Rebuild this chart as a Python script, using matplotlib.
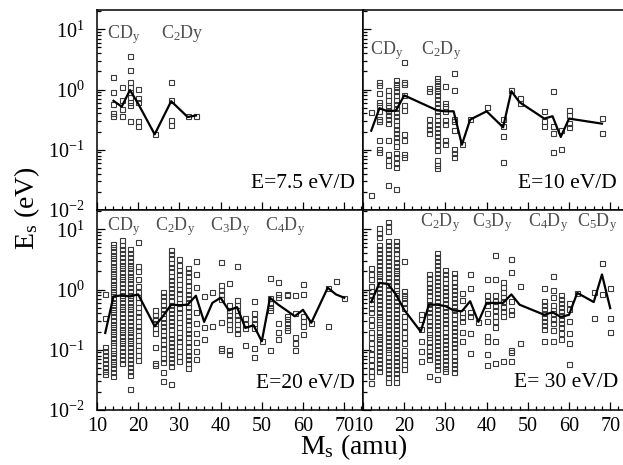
import math
import matplotlib
matplotlib.use("Agg")
import matplotlib.pyplot as plt
from matplotlib.ticker import FixedLocator, MultipleLocator, NullFormatter, FuncFormatter

plt.rcParams['font.family'] = 'serif'
plt.rcParams['font.serif'] = ['Liberation Serif', 'DejaVu Serif']
plt.rcParams['mathtext.fontset'] = 'custom'
plt.rcParams['mathtext.rm'] = 'Liberation Serif'
plt.rcParams['mathtext.it'] = 'Liberation Serif:italic'
plt.rcParams['mathtext.bf'] = 'Liberation Serif:bold'
plt.rcParams['axes.unicode_minus'] = False

# ---------------- E = 7.5 eV/D ----------------
mass_7p5 = [14, 16, 18, 20, 24, 28, 32, 34]
es_7p5 = [
    [1.6, 0.91, 0.58, 0.40, 0.37],
    [1.09, 0.68, 0.48, 0.36],
    [3.6, 2.1, 1.34, 1.11, 0.91, 0.75, 0.62, 0.55, 0.30],
    [1.04, 0.73, 0.62, 0.30, 0.25],
    [0.18],
    [1.32, 0.66, 0.31, 0.26],
    [0.36],
    [0.37],
]
mean_m_7p5 = [14, 16, 18, 20, 24, 28, 32, 34]
mean_e_7p5 = [0.65, 0.52, 0.98, 0.58, 0.18, 0.64, 0.35, 0.37]

# ---------------- E = 10 eV/D ----------------
mass_10 = [12, 14, 16, 18, 20, 26, 28, 30, 32, 34, 36, 40, 44, 46, 48, 54, 56, 58, 60, 68]
es_10 = [
    [0.43, 0.018],
    [1.34, 1.21, 0.88, 0.62, 0.56, 0.44, 0.33, 0.30, 0.143, 0.104, 0.09],
    [0.97, 0.8, 0.68, 0.56, 0.51, 0.44, 0.38, 0.32, 0.28, 0.147, 0.086, 0.068, 0.056, 0.026],
    [1.46, 1.26, 1.11, 0.94, 0.8, 0.68, 0.58, 0.49, 0.42, 0.36, 0.31, 0.26, 0.22, 0.19,
     0.16, 0.138, 0.114, 0.088, 0.077, 0.06, 0.051, 0.022],
    [2.86, 1.32, 1.25, 0.8, 0.56, 0.45, 0.185, 0.143, 0.085, 0.075],
    [1.07, 0.94, 0.32, 0.26, 0.22, 0.19],
    [1.57, 1.38, 1.21, 1.07, 0.94, 0.8, 0.7, 0.6, 0.51, 0.435, 0.373, 0.316, 0.271, 0.23,
     0.197, 0.171, 0.147, 0.124, 0.1, 0.068, 0.056, 0.049],
    [1.15, 0.6, 0.53, 0.435, 0.31, 0.27, 0.147, 0.124],
    [1.85, 1.0, 0.33, 0.3, 0.21, 0.104, 0.088, 0.077],
    [0.124],
    [0.32],
    [0.51],
    [0.33, 0.245, 0.171, 0.062],
    [0.98],
    [0.72, 0.6],
    [0.435, 0.3, 0.25],
    [0.94, 0.245, 0.19, 0.09],
    [0.21, 0.104],
    [0.46, 0.38, 0.28, 0.24],
    [0.34, 0.19],
]
mean_m_10 = [12, 14, 16, 18, 20, 28, 30, 32, 34, 36, 40, 44, 46, 48, 54, 56, 58, 60, 68]
mean_e_10 = [0.207, 0.49, 0.435, 0.447, 0.80, 0.45, 0.435, 0.435, 0.121, 0.316, 0.435,
             0.236, 0.94, 0.615, 0.329, 0.36, 0.163, 0.329, 0.271]

# ---------------- E = 20 eV/D ----------------
mass_20 = [12, 14, 16, 18, 20, 24, 26, 28, 30, 32, 34, 36, 38, 40, 42, 44, 46, 48,
           50, 52, 54, 56, 58, 60, 62, 66, 68, 70]
es_20 = [
    [0.85, 0.34, 0.11, 0.095, 0.082, 0.07, 0.06, 0.052, 0.045, 0.04],
    [5.8, 5.0, 4.4, 3.8, 3.3, 2.9, 2.5, 2.2, 1.9, 1.65, 1.45, 1.25, 1.1, 0.95, 0.83, 0.72,
     0.63, 0.55, 0.48, 0.42, 0.36, 0.31, 0.27, 0.235, 0.205, 0.18, 0.155, 0.135, 0.118,
     0.1, 0.088, 0.076, 0.066, 0.057, 0.05, 0.043, 0.037],
    [6.6, 5.6, 4.8, 4.1, 3.5, 3.0, 2.6, 2.25, 1.95, 1.7, 1.47, 1.27, 1.1, 0.95, 0.82, 0.71,
     0.62, 0.54, 0.47, 0.41, 0.35, 0.3, 0.26, 0.225, 0.195, 0.17, 0.147, 0.127, 0.11,
     0.095, 0.082, 0.071, 0.06],
    [4.8, 4.1, 3.5, 3.0, 2.6, 2.25, 1.95, 1.7, 1.47, 1.27, 1.1, 0.95, 0.82, 0.71, 0.62,
     0.54, 0.47, 0.41, 0.35, 0.3, 0.26, 0.225, 0.195, 0.17, 0.147, 0.127, 0.11, 0.095,
     0.082, 0.071, 0.06, 0.052, 0.045, 0.038, 0.022],
    [6.1, 2.5, 2.0, 1.5, 1.15, 0.9, 0.75, 0.62, 0.52, 0.43, 0.36, 0.3, 0.25, 0.21, 0.175,
     0.145, 0.12, 0.1, 0.083, 0.068],
    [0.46, 0.38, 0.33, 0.28, 0.23, 0.19, 0.11, 0.06, 0.055],
    [0.92, 0.78, 0.66, 0.56, 0.47, 0.4, 0.34, 0.29, 0.245, 0.21, 0.175, 0.148, 0.125,
     0.105, 0.088, 0.074, 0.063, 0.042, 0.03],
    [4.6, 3.9, 3.3, 2.8, 2.4, 2.0, 1.7, 1.45, 1.24, 1.05, 0.9, 0.77, 0.66, 0.56, 0.48,
     0.41, 0.35, 0.3, 0.255, 0.22, 0.185, 0.158, 0.135, 0.115, 0.098, 0.084, 0.072,
     0.062, 0.053, 0.027],
    [3.2, 2.6, 2.15, 1.8, 1.5, 1.25, 1.04, 0.87, 0.72, 0.6, 0.5, 0.42, 0.35, 0.29, 0.24,
     0.2, 0.165, 0.138, 0.115, 0.096, 0.08, 0.065],
    [2.3, 1.95, 1.65, 1.4, 1.18, 1.0, 0.85, 0.72, 0.61, 0.52, 0.44, 0.37, 0.31, 0.265,
     0.225, 0.19, 0.16, 0.135, 0.115, 0.097, 0.082, 0.07, 0.059, 0.05],
    [2.96, 1.82, 1.09, 0.42, 0.28, 0.19, 0.134, 0.094, 0.071],
    [0.77, 0.24, 0.15],
    [0.9, 0.245],
    [2.9, 1.18, 1.0, 0.83, 0.69, 0.29, 0.108, 0.1],
    [1.3, 0.56, 0.45, 0.38, 0.32, 0.27, 0.22, 0.1, 0.085],
    [2.5, 0.68, 0.55, 0.46, 0.38, 0.32, 0.27, 0.22, 0.19],
    [0.34, 0.27, 0.23, 0.12],
    [0.64, 0.4, 0.33, 0.28, 0.23, 0.108, 0.076],
    [0.14],
    [1.55, 0.73, 0.6, 0.52, 0.45, 0.1],
    [1.35, 0.83, 0.75, 0.28, 0.2, 0.15],
    [0.85, 0.8, 0.36, 0.33, 0.28, 0.24, 0.21],
    [0.8, 0.4, 0.16, 0.13, 0.1],
    [1.25, 0.85, 0.36, 0.3, 0.25, 0.185],
    [0.28],
    [1.07, 0.245],
    [1.38],
    [0.73],
]
mean_m_20 = [12, 14, 16, 18, 20, 24, 26, 28, 30, 32, 34, 36, 38, 40, 42, 44, 46, 48,
             50, 52, 54, 56, 58, 60, 62, 66, 68, 70]
mean_e_20 = [0.19, 0.77, 0.80, 0.77, 0.83, 0.245, 0.36, 0.56, 0.55, 0.56, 0.79, 0.29,
             0.60, 0.73, 0.45, 0.51, 0.23, 0.255, 0.138, 0.73, 0.56, 0.45, 0.36, 0.46,
             0.28, 1.07, 0.83, 0.73]

# ---------------- E = 30 eV/D ----------------
mass_30 = [12, 14, 16, 18, 20, 24, 26, 28, 30, 32, 34, 36, 38, 40, 42, 44, 46, 48,
           54, 56, 58, 60, 62, 66, 68, 70]
es_30 = [
    [2.3, 1.8, 1.5, 1.15, 0.95, 0.82, 0.7, 0.6, 0.5, 0.42, 0.33, 0.26, 0.2, 0.16, 0.13,
     0.105, 0.085, 0.07, 0.055, 0.045, 0.036, 0.028],
    [10.5, 8.8, 7.4, 5.6, 4.8, 4.1, 3.5, 3.0, 2.6, 2.2, 1.9, 1.65, 1.42, 1.22, 1.05, 0.9,
     0.78, 0.67, 0.58, 0.5, 0.43, 0.37, 0.32, 0.27, 0.235, 0.2, 0.172, 0.148, 0.128, 0.11,
     0.095, 0.082, 0.07, 0.06, 0.052, 0.045],
    [13.5, 11.5, 9.5, 6.5, 5.6, 4.8, 4.1, 3.5, 3.0, 2.6, 2.2, 1.9, 1.63, 1.4, 1.2, 1.03,
     0.88, 0.76, 0.65, 0.56, 0.48, 0.41, 0.35, 0.3, 0.26, 0.22, 0.19, 0.165, 0.14, 0.12,
     0.104, 0.09, 0.077, 0.066, 0.056, 0.048, 0.041, 0.035, 0.029],
    [6.4, 5.5, 4.7, 4.0, 3.4, 2.9, 2.5, 2.15, 1.85, 1.6, 1.37, 1.18, 1.0, 0.86, 0.74, 0.64,
     0.55, 0.47, 0.4, 0.345, 0.3, 0.255, 0.22, 0.19, 0.163, 0.14, 0.12, 0.103, 0.089,
     0.076, 0.065, 0.056, 0.048, 0.041, 0.035, 0.029],
    [2.95, 0.95, 0.82, 0.72, 0.62, 0.5, 0.36, 0.3, 0.25, 0.2, 0.16, 0.13, 0.1, 0.083,
     0.07, 0.058, 0.048],
    [0.39, 0.32, 0.22, 0.138, 0.094, 0.064],
    [1.8, 1.55, 1.3, 1.1, 0.93, 0.8, 0.68, 0.58, 0.49, 0.42, 0.36, 0.3, 0.26, 0.22, 0.185,
     0.16, 0.135, 0.115, 0.097, 0.082, 0.07, 0.037],
    [4.1, 3.5, 3.0, 2.6, 2.2, 1.9, 1.62, 1.4, 1.2, 1.03, 0.88, 0.76, 0.65, 0.56, 0.48,
     0.41, 0.35, 0.3, 0.26, 0.22, 0.19, 0.162, 0.14, 0.12, 0.103, 0.088, 0.076, 0.065,
     0.056, 0.048, 0.033],
    [2.1, 1.8, 1.55, 1.3, 1.12, 0.96, 0.82, 0.7, 0.6, 0.52, 0.44, 0.38, 0.32, 0.28, 0.24,
     0.2, 0.17, 0.145, 0.125, 0.107, 0.092, 0.079, 0.068, 0.058, 0.05, 0.044],
    [1.9, 1.6, 1.35, 1.15, 0.98, 0.84, 0.72, 0.62, 0.53, 0.45, 0.39, 0.33, 0.28, 0.24,
     0.205, 0.175, 0.15, 0.128, 0.11, 0.094, 0.08, 0.068, 0.058, 0.05, 0.043],
    [0.88, 0.68, 0.42, 0.35, 0.30, 0.2, 0.138],
    [1.78, 1.07, 0.43, 0.36, 0.19, 0.088],
    [0.29],
    [1.52, 0.8, 0.64, 0.56, 0.4, 0.3, 0.167, 0.138, 0.085, 0.056],
    [3.7, 1.52, 0.8, 0.64, 0.54, 0.45, 0.36, 0.3, 0.24, 0.14, 0.06],
    [1.35, 1.1, 0.9, 0.76, 0.64, 0.52, 0.44, 0.36, 0.065],
    [3.2, 1.95, 0.64, 0.46, 0.39, 0.1, 0.09, 0.066],
    [1.14, 0.13],
    [1.07, 0.64, 0.56, 0.48, 0.41, 0.35, 0.3, 0.26, 0.22, 0.138],
    [1.7, 0.98, 0.75, 0.55, 0.46, 0.4, 0.33, 0.28, 0.21, 0.14],
    [0.8, 0.7, 0.6, 0.52, 0.44, 0.38, 0.33, 0.28, 0.24, 0.19, 0.15],
    [0.6, 0.48, 0.3, 0.19, 0.13, 0.057],
    [0.88],
    [0.9, 0.34],
    [2.8, 0.83],
    [1.08, 0.34, 0.2],
]
mean_m_30 = [12, 14, 16, 18, 20, 24, 26, 28, 30, 32, 34, 36, 38, 40, 42, 44, 46, 48,
             54, 56, 58, 60, 62, 66, 68, 70]
mean_e_30 = [0.62, 1.29, 1.24, 0.83, 0.46, 0.20, 0.56, 0.56, 0.53, 0.45, 0.435, 0.64,
             0.29, 0.60, 0.60, 0.60, 0.83, 0.56, 0.38, 0.42, 0.35, 0.38, 0.88, 0.62,
             1.78, 0.49]

decades = [0.01, 0.1, 1, 10]
minor_vals = [s * d for d in decades for s in range(2, 10)]


def decade_label(v, pos):
    return r'$\mathregular{10^{%d}}$' % round(math.log10(v))


# ---------------- figure layout (pixel boxes) ----------------
W, H = 623, 465
fig = plt.figure(figsize=(W / 100, H / 100), dpi=100)


def box(x0, y0, x1, y1):
    return [x0 / W, 1 - y1 / H, (x1 - x0) / W, (y1 - y0) / H]


ax_tl = fig.add_axes(box(97, 10, 363, 210))
ax_tr = fig.add_axes(box(363, 10, 629, 210))
ax_bl = fig.add_axes(box(97, 210, 363, 410))
ax_br = fig.add_axes(box(363, 210, 629, 410))

panels = [
    (ax_tl, mass_7p5, es_7p5, mean_m_7p5, mean_e_7p5),
    (ax_tr, mass_10, es_10, mean_m_10, mean_e_10),
    (ax_bl, mass_20, es_20, mean_m_20, mean_e_20),
    (ax_br, mass_30, es_30, mean_m_30, mean_e_30),
]

for ax, masses, evals, mm, me in panels:
    xs, ys = [], []
    for m, col in zip(masses, evals):
        xs.extend([m] * len(col))
        ys.extend(col)
    ax.plot(xs, ys, linestyle='none', marker='s', markersize=3.6,
            markerfacecolor='none', markeredgecolor='#3a3a3a',
            markeredgewidth=0.8, zorder=2)
    ax.plot(mm, me, color='black', linewidth=1.6, zorder=3)

    ax.set_yscale('log')
    ax.set_ylim(0.00995, 21)
    ax.set_xlim(10, 74.56)
    ax.xaxis.set_major_locator(MultipleLocator(10))
    ax.xaxis.set_minor_locator(MultipleLocator(2))
    ax.yaxis.set_major_locator(FixedLocator(decades))
    ax.yaxis.set_minor_locator(FixedLocator(minor_vals))
    ax.yaxis.set_minor_formatter(NullFormatter())
    ax.yaxis.set_major_formatter(FuncFormatter(decade_label))
    ax.tick_params(which='both', direction='in', top=False, right=False,
                   labelsize=14.5, width=0.9, pad=5)
    ax.tick_params(which='major', length=6)
    ax.tick_params(which='minor', length=3)
    for sp in ax.spines.values():
        sp.set_linewidth(1.1)

for ax in (ax_tl, ax_tr):
    ax.tick_params(labelbottom=False)
for ax in (ax_tr, ax_br):
    ax.tick_params(labelleft=False)
for ax in (ax_tl, ax_bl):
    ax.tick_params(axis='y', pad=9)

gray = '#505050'
lab = dict(color=gray, fontsize=13, va='baseline', ha='left')
ax_tl.text(0.038, 0.86, r'CD$_\mathregular{y}$', transform=ax_tl.transAxes, **lab)
ax_tl.text(0.24, 0.86, r'C$_\mathregular{2}$Dy', transform=ax_tl.transAxes, **lab)
ax_tr.text(0.026, 0.78, r'CD$_\mathregular{y}$', transform=ax_tr.transAxes, **lab)
ax_tr.text(0.217, 0.78, r'C$_\mathregular{2}$D$_\mathregular{y}$', transform=ax_tr.transAxes, **lab)
ax_bl.text(0.038, 0.90, r'CD$_\mathregular{y}$', transform=ax_bl.transAxes, **lab)
ax_bl.text(0.218, 0.90, r'C$_\mathregular{2}$D$_\mathregular{y}$', transform=ax_bl.transAxes, **lab)
ax_bl.text(0.425, 0.90, r'C$_\mathregular{3}$D$_\mathregular{y}$', transform=ax_bl.transAxes, **lab)
ax_bl.text(0.632, 0.90, r'C$_\mathregular{4}$D$_\mathregular{y}$', transform=ax_bl.transAxes, **lab)
ax_br.text(0.214, 0.92, r'C$_\mathregular{2}$D$_\mathregular{y}$', transform=ax_br.transAxes, **lab)
ax_br.text(0.409, 0.92, r'C$_\mathregular{3}$D$_\mathregular{y}$', transform=ax_br.transAxes, **lab)
ax_br.text(0.619, 0.92, r'C$_\mathregular{4}$D$_\mathregular{y}$', transform=ax_br.transAxes, **lab)
ax_br.text(0.803, 0.92, r'C$_\mathregular{5}$D$_\mathregular{y}$', transform=ax_br.transAxes, **lab)

elab = dict(color='black', fontsize=15.5, va='baseline', ha='right')
ax_tl.text(0.97, 0.11, 'E=7.5 eV/D', transform=ax_tl.transAxes, **elab)
ax_tr.text(0.954, 0.11, 'E=10 eV/D', transform=ax_tr.transAxes, **elab)
ax_bl.text(0.97, 0.11, 'E=20 eV/D', transform=ax_bl.transAxes, **elab)
ax_br.text(0.958, 0.115, 'E= 30 eV/D', transform=ax_br.transAxes, **elab)

fig.text(27 / W, 1 - 208 / H, r'E$_\mathregular{s}$ (eV)', rotation=90,
         fontsize=20, ha='center', va='center')
fig.text(354 / W, 1 - 447 / H, r'M$_\mathregular{s}$ (amu)',
         fontsize=20, ha='center', va='center')

fig.savefig('out.png', dpi=100)
